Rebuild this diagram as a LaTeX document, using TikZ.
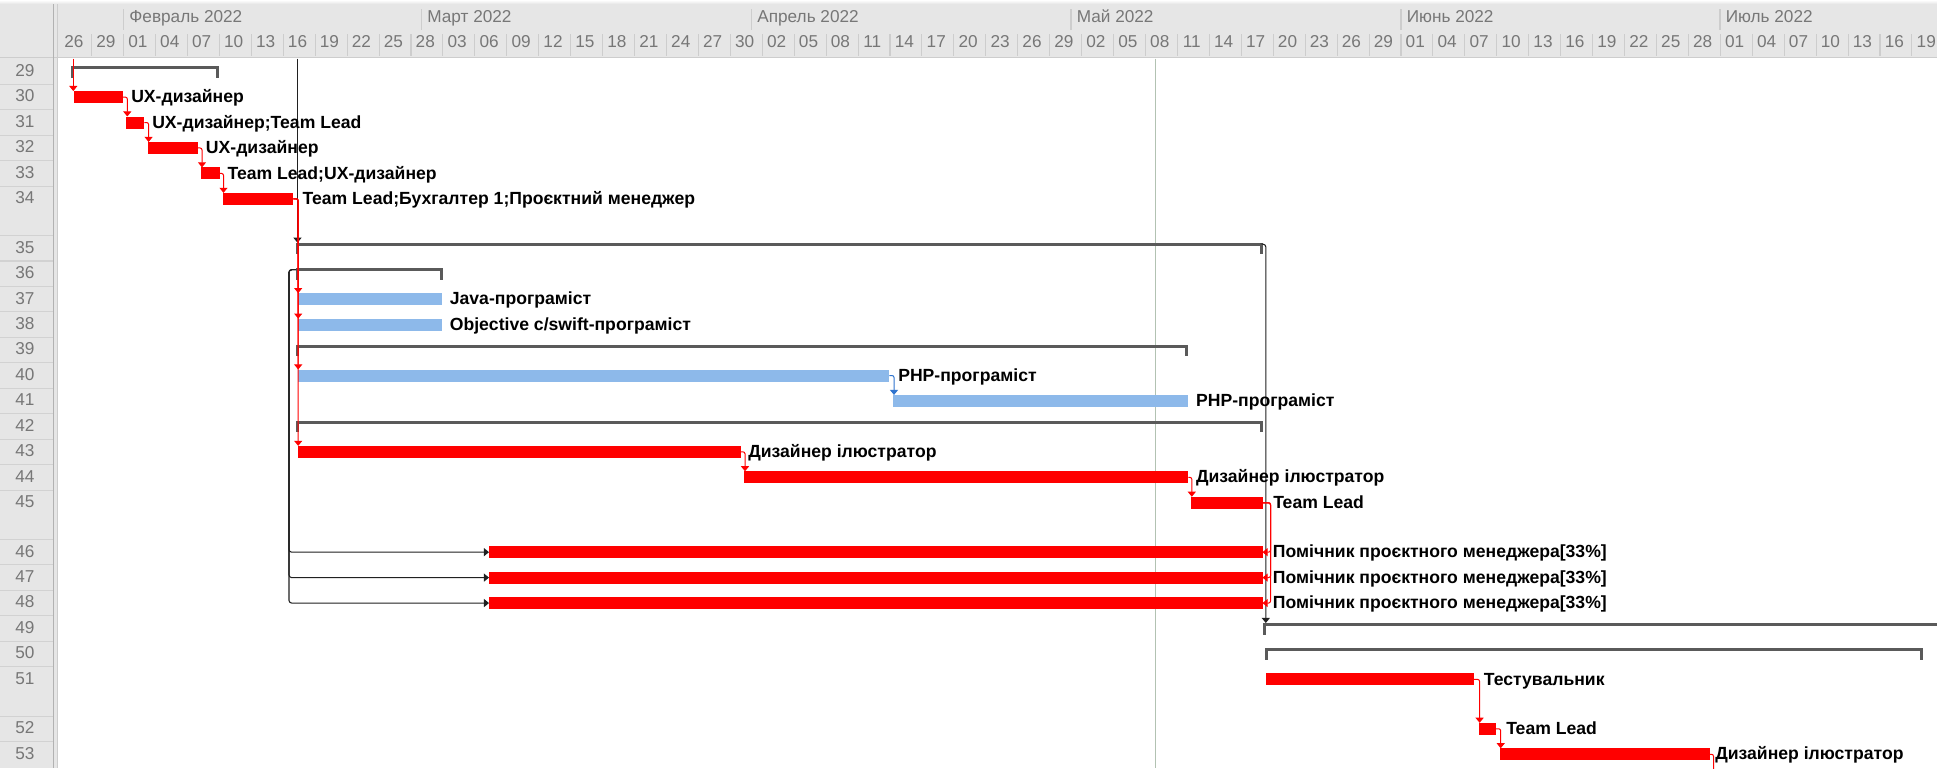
\documentclass[tikz,border=0pt]{standalone}
\usepackage{fontspec}
\setmainfont{Liberation Sans}
\usetikzlibrary{arrows.meta,calc}

\definecolor{hdrbg}{HTML}{E6E6E6}
\definecolor{hdrtxt}{HTML}{777777}
\definecolor{hdrsep}{HTML}{CDCDCD}
\definecolor{rowsep}{HTML}{D2D2D2}
\definecolor{barred}{HTML}{FF0000}
\definecolor{barblue}{HTML}{8DB9EA}
\definecolor{linkblue}{HTML}{2F74CF}
\definecolor{summgray}{HTML}{5A5A5A}
\definecolor{linkblack}{HTML}{202020}
\definecolor{statuscol}{HTML}{B2C2B2}

% a task bar: name, style, start x, end x, row centre
\newcommand\taskbar[5]{\node[#2, minimum width={(#4-(#3))*0.75pt}] (#1) at (#3,#5) {};}
% a resource label: name, x, row centre, text
\newcommand\tasklabel[4]{\node[tasklbl] (#1) at (#2,#3+5.6) {#4};}
% a summary bracket: name, start x, end x, row centre, r = closing tick / n = open end
\newcommand\summbar[5]{%
  \node[summline, minimum width={(#3-(#2))*0.75pt}] (#1) at (#2,#4-4) {};
  \fill[summgray] (#2,#4-5.5) rectangle ++(3,11.5);
  \ifx r#5\fill[summgray] (#3,#4-5.5) rectangle ++(-3,11.5);\fi}

\begin{document}
\begin{tikzpicture}[x=0.75pt,y=-0.75pt,
  redbar/.style={rectangle, fill=barred, draw=none, inner sep=0pt, outer sep=0pt, minimum height=9pt, anchor=west},
  bluebar/.style={redbar, fill=barblue},
  summline/.style={rectangle, fill=summgray, draw=none, inner sep=0pt, outer sep=0pt, minimum height=2.25pt, anchor=west},
  tasklbl/.style={anchor=base west, inner sep=0pt, font=\bfseries\fontsize{13.2}{15}\selectfont},
  hdrlbl/.style={inner sep=0pt, text=hdrtxt, font=\fontsize{12.9}{15}\selectfont},
  tip/.style={-{Triangle[width=6pt,length=3.8pt]}},
  redlink/.style={draw=barred, line width=0.75pt, rounded corners=1.5pt},
  bluelink/.style={draw=linkblue, line width=0.75pt, rounded corners=1.5pt},
  blklink/.style={draw=linkblack, line width=0.8pt, rounded corners=2pt},
]
\clip (0,0) rectangle (1937,768);
\fill[white] (0,0) rectangle (1937,768);

% ---- header and row-number column
\fill[hdrbg] (0,4) rectangle (1937,58);
\fill[hdrbg] (0,58) rectangle (58,768);
\shade[top color=white, bottom color=hdrbg] (0,0) rectangle (1937,4);
\draw[color=hdrsep, line width=0.9pt] (0,57.6) -- (1937,57.6);
\draw[color=black!30, line width=1.1pt] (53.4,4) -- (53.4,768);
\draw[color=hdrsep, line width=0.8pt] (57.2,4) -- (57.2,768);

% month bands
\foreach \mx/\mname [count=\i] in {123.6/Февраль 2022, 421.6/Март 2022, 751.6/Апрель 2022,
    1071/Май 2022, 1401/Июнь 2022, 1720/Июль 2022} {
  \draw[hdrsep, line width=0.8pt] (\mx,9) -- (\mx,30);
  \node[hdrlbl, anchor=base west] (month\i) at (\mx+5.5,22.6) {\mname};
}
% day columns, three days each
\foreach \k in {1,...,58}
  \draw[hdrsep, line width=0.8pt] (59.7+31.935*\k,34) -- ++(0,22);
\foreach \d [count=\k from 0] in {26,29,01,04,07,10,13,16,19,22,25,28,03,06,09,12,15,18,21,24,27,30,
    02,05,08,11,14,17,20,23,26,29,02,05,08,11,14,17,20,23,26,29,01,04,07,10,13,16,19,22,25,28,
    01,04,07,10,13,16,19}
  \node[hdrlbl, anchor=center] (day\k) at (59.7+31.935*\k+14.3,41.7) {\d};

% row numbers and their separators
\foreach \y in {84.35,109.8,135.25,160.7,186.15,235.55,261,286.45,311.9,337.35,362.8,388.25,
    413.7,439.15,464.6,490.05,539.45,564.9,590.35,615.8,641.25,666.7,716.1,741.55}
  \draw[rowsep, line width=0.8pt] (0,\y) -- (53,\y);
\foreach \n/\yc in {29/71.6,30/97.05,31/122.5,32/147.95,33/173.4,34/198.85,35/248.25,36/273.7,
    37/299.15,38/324.6,39/350.05,40/375.5,41/400.95,42/426.4,43/451.85,44/477.3,45/502.75,
    46/552.15,47/577.6,48/603.05,49/628.5,50/653.95,51/679.4,52/728.8,53/754.25}
  \node[hdrlbl, anchor=center] (r\n) at (25,\yc-1) {\n};

% status date line
\coordinate (status top) at (1155,58.5);
\coordinate (status bottom) at (1155,768);
\draw[statuscol, line width=0.7pt] (status top) -- (status bottom);

% ---- summary brackets
\summbar{s29}{71}{218.7}{71.6}{r}
\summbar{s35}{296}{1263.3}{248.25}{r}
\summbar{s36}{296}{442.9}{273.7}{r}
\summbar{s39}{296}{1188.4}{350.05}{r}
\summbar{s42}{296}{1263.3}{426.4}{r}
\summbar{s49}{1263.3}{1960}{628.5}{n}
\summbar{s50}{1265}{1923.3}{653.95}{r}

% ---- task bars
\taskbar{t30}{redbar}{73.5}{123}{97.05}
\taskbar{t31}{redbar}{126.3}{144.3}{122.5}
\taskbar{t32}{redbar}{147.6}{197.6}{147.95}
\taskbar{t33}{redbar}{201}{219.5}{173.4}
\taskbar{t34}{redbar}{222.5}{293.3}{198.85}
\taskbar{t37}{bluebar}{297.7}{442.2}{299.15}
\taskbar{t38}{bluebar}{297.7}{442.2}{324.6}
\taskbar{t40}{bluebar}{297.7}{889.4}{375.5}
\taskbar{t41}{bluebar}{893}{1188.4}{400.95}
\taskbar{t43}{redbar}{297.7}{741.2}{451.85}
\taskbar{t44}{redbar}{744}{1188.4}{477.3}
\taskbar{t45}{redbar}{1190.8}{1262.5}{502.75}
\taskbar{t46}{redbar}{489}{1262.5}{552.15}
\taskbar{t47}{redbar}{489}{1262.5}{577.6}
\taskbar{t48}{redbar}{489}{1262.5}{603.05}
\taskbar{t51}{redbar}{1266}{1473.7}{679.4}
\taskbar{t52}{redbar}{1478.6}{1496}{728.8}
\taskbar{t53}{redbar}{1499.7}{1709.7}{754.25}

% ---- dependency links
\coordinate (in30) at (73.3,58.5);
\coordinate (in35) at (297.5,58.5);
\coordinate (out53) at (1713.5,772);
\draw[redlink, tip] (in30) -- (in30 |- t30.north);
\draw[blklink, tip] (in35) -- (in35 |- s35.north);
\draw[redlink, tip] (t30.east) -| ($(t31.north west)+(1,0)$);
\draw[redlink, tip] (t31.east) -| ($(t32.north west)+(1,0)$);
\draw[redlink, tip] (t32.east) -| ($(t33.north west)+(1,0)$);
\draw[redlink, tip] (t33.east) -| ($(t34.north west)+(1,0)$);
\draw[redlink, tip] (t34.east) -| ($(t43.north west)+(0.5,0)$);
\draw[redlink, tip] (t34.east) -| ($(t40.north west)+(0.5,0)$);
\draw[redlink, tip] (t34.east) -| ($(t38.north west)+(0.5,0)$);
\draw[redlink, tip] (t34.east) -| ($(t37.north west)+(0.5,0)$);
\draw[bluelink, tip] (t40.east) -| ($(t41.north west)+(1,0)$);
\draw[redlink, tip] (t43.east) -| ($(t44.north west)+(1,0)$);
\draw[redlink, tip] (t44.east) -| ($(t45.north west)+(1,0)$);
\draw[blklink, tip] (s36.west) -- ++(-7,0) |- (t46.west);
\draw[blklink, tip] (s36.west) -- ++(-7,0) |- (t47.west);
\draw[blklink, tip] (s36.west) -- ++(-7,0) |- (t48.west);
\draw[blklink, tip] (s35.east) -| ($(s49.north west)+(2.5,0)$);
\draw[redlink, tip] (t45.east) -- ++(8,0) |- (t46.east);
\draw[redlink, tip] (t45.east) -- ++(8,0) |- (t47.east);
\draw[redlink, tip] (t45.east) -- ++(8,0) |- (t48.east);
\draw[redlink, tip] (t51.east) -| ($(t52.north west)+(1,0)$);
\draw[redlink, tip] (t52.east) -| ($(t53.north west)+(1,0)$);
\draw[redlink] (t53.east) -| (out53);

% ---- resource labels
\tasklabel{l30}{131}{97.05}{UX-дизайнер}
\tasklabel{l31}{152}{122.5}{UX-дизайнер;Team Lead}
\tasklabel{l32}{205.7}{147.95}{UX-дизайнер}
\tasklabel{l33}{227.3}{173.4}{Team Lead;UX-дизайнер}
\tasklabel{l34}{302.4}{198.85}{Team Lead;Бухгалтер 1;Проєктний менеджер}
\tasklabel{l37}{449.6}{299.15}{Java-програміст}
\tasklabel{l38}{449.6}{324.6}{Objective c/swift-програміст}
\tasklabel{l40}{898}{375.5}{PHP-програміст}
\tasklabel{l41}{1195.8}{400.95}{PHP-програміст}
\tasklabel{l43}{748}{451.85}{Дизайнер ілюстратор}
\tasklabel{l44}{1195.8}{477.3}{Дизайнер ілюстратор}
\tasklabel{l45}{1273}{502.75}{Team Lead}
\tasklabel{l46}{1272.7}{552.15}{Помічник проєктного менеджера[33\%]}
\tasklabel{l47}{1272.7}{577.6}{Помічник проєктного менеджера[33\%]}
\tasklabel{l48}{1272.7}{603.05}{Помічник проєктного менеджера[33\%]}
\tasklabel{l51}{1483.6}{679.4}{Тестувальник}
\tasklabel{l52}{1506}{728.8}{Team Lead}
\tasklabel{l53}{1715}{754.25}{Дизайнер ілюстратор}
\end{tikzpicture}
\end{document}
